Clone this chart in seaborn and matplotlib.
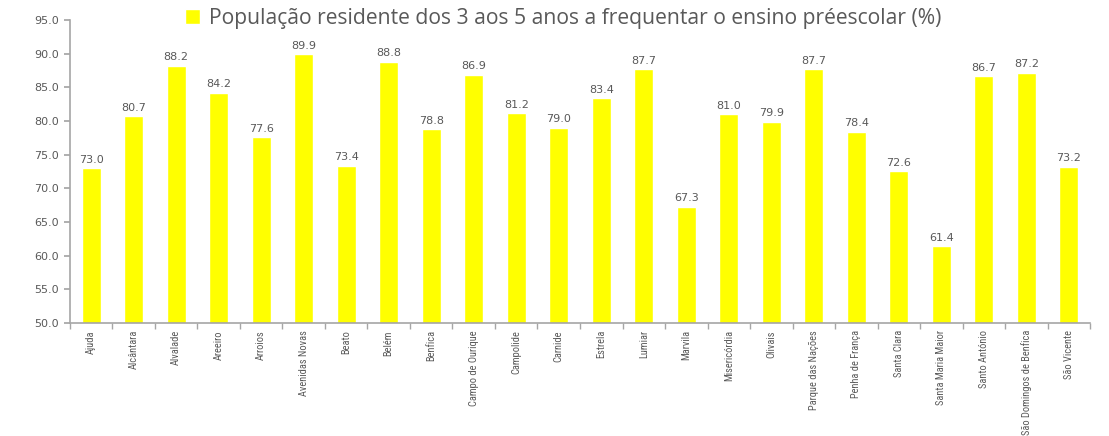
import matplotlib
matplotlib.use('Agg')
import matplotlib.pyplot as plt
import pandas as pd
import seaborn as sns

FREGUESIAS = ['Ajuda', 'Alcântara', 'Alvalade', 'Areeiro', 'Arroios', 'Avenidas Novas',
              'Beato', 'Belém', 'Benfica', 'Campo de Ourique', 'Campolide', 'Carnide',
              'Estrela', 'Lumiar', 'Marvila', 'Misericórdia', 'Olivais', 'Parque das Nações',
              'Penha de França', 'Santa Clara', 'Santa Maria Maior', 'Santo António',
              'São Domingos de Benfica', 'São Vicente']
VALORES = [73.0, 80.7, 88.2, 84.2, 77.6, 89.9, 73.4, 88.8, 78.8, 86.9, 81.2, 79.0,
           83.4, 87.7, 67.3, 81.0, 79.9, 87.7, 78.4, 72.6, 61.4, 86.7, 87.2, 73.2]
SERIE = 'População residente dos 3 aos 5 anos a frequentar o ensino préescolar (%)'
Y_TICKS = [50.0, 55.0, 60.0, 65.0, 70.0, 75.0, 80.0, 85.0, 90.0, 95.0]

GREY = '#595959'
AXIS = '#A6A6A6'


def main():
    sns.set_theme(style="white")
    plt.rcParams['font.family'] = ['DejaVu Sans']

    narrow = ['Liberation Sans Narrow', 'Roboto Condensed', 'Liberation Sans']

    df = pd.DataFrame({'freguesia': FREGUESIAS, 'valor': VALORES})

    fig = plt.figure(figsize=(11.09, 4.36), dpi=100)
    ax = fig.add_axes([0.063, 0.259, 0.920, 0.695])

    sns.barplot(data=df, x='freguesia', y='valor', color='#FFFF00',
                saturation=1, width=0.45, ax=ax, label=SERIE)

    for i, v in enumerate(VALORES):
        ax.text(i, v + 0.5, f"{v:.1f}", ha='center', va='bottom',
                fontsize=8, color=GREY)

    ax.set_ylim(50, 95)
    ax.set_xlim(-0.5, len(FREGUESIAS) - 0.5)
    ax.set_yticks(Y_TICKS)
    ax.set_yticklabels([f"{t:.1f}" for t in Y_TICKS], fontsize=8, color=GREY)
    ax.set_xticks(range(len(FREGUESIAS)))
    ax.set_xticklabels(FREGUESIAS, rotation=90, fontsize=7.5, color=GREY,
                       family=narrow)
    ax.set_xticks([i + 0.5 for i in range(-1, len(FREGUESIAS))], minor=True)
    ax.tick_params(axis='x', which='major', length=0, pad=5)
    ax.tick_params(axis='x', which='minor', length=4, color=AXIS, direction='out',
                   bottom=True)
    ax.tick_params(axis='y', length=4, color=AXIS, direction='out', left=True, pad=4)
    ax.set_xlabel('')
    ax.set_ylabel('')

    for side in ['top', 'right']:
        ax.spines[side].set_visible(False)
    for side in ['left', 'bottom']:
        ax.spines[side].set_color(AXIS)
        ax.spines[side].set_linewidth(1.2)

    if ax.legend_:
        ax.legend_.remove()
    handles, labels = ax.get_legend_handles_labels()
    fig.legend(handles, labels, loc='upper center', bbox_to_anchor=(0.508, 1.025),
               frameon=False, labelcolor=GREY, handlelength=0.7,
               handleheight=0.7, handletextpad=0.45,
               prop={'family': ['Open Sans', 'DejaVu Sans'], 'size': 15.2})

    plt.savefig('out.png', dpi=100)
    plt.close()


if __name__ == '__main__':
    main()
